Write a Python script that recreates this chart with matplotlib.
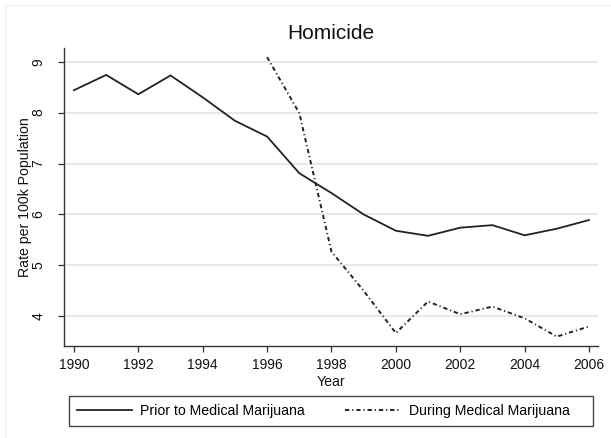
import matplotlib
matplotlib.use("Agg")
import matplotlib.pyplot as plt
from matplotlib.patches import Rectangle

years_prior = [1990, 1991, 1992, 1993, 1994, 1995, 1996, 1997, 1998, 1999,
               2000, 2001, 2002, 2003, 2004, 2005, 2006]
prior = [8.44, 8.74, 8.36, 8.73, 8.30, 7.84, 7.53, 6.81, 6.42, 6.00,
         5.68, 5.58, 5.74, 5.79, 5.59, 5.72, 5.89]
years_during = [1996, 1997, 1998, 1999, 2000, 2001, 2002, 2003, 2004, 2005, 2006]
during = [9.09, 7.99, 5.27, 4.50, 3.67, 4.29, 4.04, 4.19, 3.96, 3.60, 3.80]

xticks = [1990, 1992, 1994, 1996, 1998, 2000, 2002, 2004, 2006]
yticks = [4, 5, 6, 7, 8, 9]

plt.rcParams['font.family'] = ['Liberation Sans', 'DejaVu Sans']

W, H = 611, 438
fig = plt.figure(figsize=(W / 100, H / 100), dpi=100)
fig.patch.set_facecolor('white')

# faint outer frame
fig.add_artist(Rectangle((5 / W, -0.05), 1.2, 1 - 5 / H + 0.05, transform=fig.transFigure,
                         fill=False, edgecolor='#efefef', linewidth=1.0))

ax = fig.add_axes([64.3 / W, 1 - 346 / H, (598 - 64.3) / W, (346 - 47.7) / H])
ax.set_xlim(1989.70, 2006.28)
ax.set_ylim(3.416, 9.275)

line_col = '#222222'
ax.plot(years_prior, prior, color=line_col, linewidth=1.3, label='Prior to Medical Marijuana',
        solid_joinstyle='miter')
ax.plot(years_during, during, color=line_col, linewidth=1.4, linestyle=(0, (2.2, 1.5, 0.6, 1.5)),
        label='During Medical Marijuana')

ax.set_xticks(xticks)
ax.set_yticks(yticks)
ax.grid(axis='y', color='#e8e8e8', linewidth=1.5)
ax.set_axisbelow(True)
for s in ['top', 'right']:
    ax.spines[s].set_visible(False)
for s in ['left', 'bottom']:
    ax.spines[s].set_color('#333333')
    ax.spines[s].set_linewidth(1.0)

ax.tick_params(axis='both', direction='out', length=4.5, width=0.9, color='#333333',
               labelsize=10, labelcolor='#111111')
ax.tick_params(axis='x', pad=4)
ax.tick_params(axis='y', pad=9, labelrotation=90)
for lab in ax.get_yticklabels():
    lab.set_va('center')

ax.set_title('Homicide', fontsize=15, color='#111111', pad=6)
ax.set_xlabel('Year', fontsize=10.2, color='#111111', labelpad=2)
ax.set_ylabel('Rate per 100k Population', fontsize=10.2, color='#111111', labelpad=0)

# legend frame
fig.add_artist(Rectangle((68.7 / W, 1 - 426 / H), (593.3 - 68.7) / W, 30 / H,
                         transform=fig.transFigure, fill=False,
                         edgecolor='#444444', linewidth=1.0))
leg = fig.legend(loc='center left', ncol=2,
                 bbox_to_anchor=(76.7 / W, 1 - 411 / H),
                 frameon=False, fontsize=10.2,
                 handlelength=3.9, handletextpad=0.6, borderpad=0, borderaxespad=0,
                 columnspacing=2.8)

fig.savefig('out.png', dpi=100)
